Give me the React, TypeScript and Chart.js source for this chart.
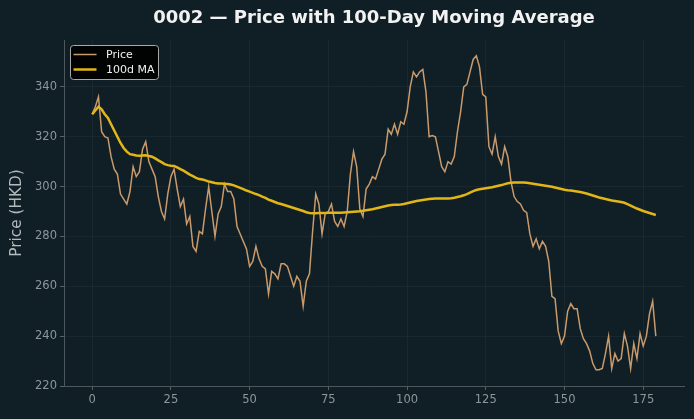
import React, { useEffect, useRef } from "react";
import { Chart, registerables } from "chart.js";

Chart.register(...registerables);

// Daily closing price (HKD), day 0 .. 179
const price: number[] = [
  329, 332, 336, 322, 320, 319.5, 312, 307, 305, 297,
  295, 293, 298, 308, 304, 306, 315, 318, 310, 307,
  304, 296, 290, 287, 297, 304, 307, 299, 292, 295,
  285, 288, 276, 274, 282, 281, 291, 300, 290, 280,
  289, 292, 301, 298, 298, 295, 284, 281, 278, 275,
  268, 270, 276, 271, 268, 267, 257, 266, 265, 263,
  269, 269, 268, 264, 260, 264, 262, 252, 262, 265,
  282, 297, 293, 281, 289, 290, 293, 286, 284, 287,
  284, 290, 305, 314, 308, 291, 288, 299, 301, 304,
  303, 307, 311, 313, 323, 321, 325, 321, 326, 325,
  330, 340, 346, 344, 346, 347, 338, 320, 320.5, 320,
  314, 308, 306, 310, 309, 312, 322, 330, 340, 341,
  346, 351, 352.5, 348, 337, 336, 316, 313, 320, 312,
  309, 316, 312, 302, 296, 294, 293, 290.5, 289.5, 281,
  276, 279, 275, 278, 276, 270, 256, 255, 242, 237,
  240, 250, 253, 251, 251, 243, 239, 237, 234, 229,
  226.5, 226.5, 227, 233, 240, 227, 233, 230, 231, 241,
  236, 227, 237, 231, 241, 236, 240, 249, 254, 240,
];

// 100-day moving average (HKD), day 0 .. 179
const movingAvg: number[] = [
  329, 330.5, 332, 331, 329, 327.5, 325, 322.5, 320, 317.5,
  315.5, 314, 313, 312.8, 312.5, 312.4, 312.5, 312.6, 312.3, 312,
  311.3, 310.5, 309.8, 309, 308.6, 308.4, 308.3, 307.7, 307, 306.4,
  305.6, 304.8, 304.2, 303.5, 303, 302.8, 302.5, 302, 301.7, 301.4,
  301.2, 301.2, 301.1, 301, 300.8, 300.5, 300, 299.5, 299, 298.4,
  298, 297.5, 297, 296.6, 296, 295.5, 294.8, 294.3, 293.8, 293.3,
  293, 292.6, 292.2, 291.8, 291.4, 291, 290.6, 290.2, 289.7, 289.4,
  289.3, 289.3, 289.4, 289.4, 289.4, 289.5, 289.5, 289.5, 289.5, 289.5,
  289.6, 289.7, 289.8, 289.9, 290, 290.1, 290.3, 290.5, 290.7, 290.9,
  291.2, 291.5, 291.8, 292.1, 292.4, 292.6, 292.7, 292.7, 292.8, 293,
  293.3, 293.6, 293.9, 294.2, 294.4, 294.6, 294.8, 295, 295.1, 295.2,
  295.2, 295.2, 295.2, 295.2, 295.3, 295.5, 295.8, 296.1, 296.5, 297,
  297.6, 298.2, 298.6, 298.9, 299.1, 299.3, 299.5, 299.7, 300, 300.3,
  300.6, 301, 301.3, 301.5, 301.6, 301.6, 301.6, 301.6, 301.5, 301.3,
  301.1, 300.9, 300.7, 300.5, 300.3, 300.1, 299.9, 299.6, 299.3, 299,
  298.7, 298.5, 298.4, 298.2, 298, 297.8, 297.5, 297.2, 296.8, 296.4,
  296, 295.6, 295.3, 295, 294.7, 294.4, 294.2, 294, 293.8, 293.5,
  293, 292.4, 291.8, 291.2, 290.7, 290.2, 289.8, 289.4, 289, 288.6,
];

const xTicks: number[] = [0, 25, 50, 75, 100, 125, 150, 175];
const yTicks: number[] = [220, 240, 260, 280, 300, 320, 340];

const TITLE = "0002 — Price with 100-Day Moving Average";
const Y_TITLE = "Price (HKD)";
const PRICE_LABEL = "Price";
const MA_LABEL = "100d MA";

const BG = "#101f26";
const PRICE_COLOR = "#c99a6b";
const MA_COLOR = "#e2b616";
const FONT = "'DejaVu Sans', sans-serif";

const decorPlugin = {
  id: "decor",
  beforeDraw(chart: Chart) {
    const { ctx, width, height } = chart;
    ctx.save();
    ctx.fillStyle = BG;
    ctx.fillRect(0, 0, width, height);
    ctx.restore();
  },
  afterDraw(chart: Chart) {
    const { ctx, chartArea } = chart;
    ctx.save();
    // title
    ctx.fillStyle = "#f2f2f2";
    ctx.font = `bold 18px ${FONT}`;
    ctx.textAlign = "center";
    ctx.textBaseline = "middle";
    ctx.fillText(TITLE, (chartArea.left + chartArea.right) / 2, 18);

    // y-axis title
    ctx.save();
    ctx.translate(17, (chartArea.top + chartArea.bottom) / 2);
    ctx.rotate(-Math.PI / 2);
    ctx.fillStyle = "#b3babe";
    ctx.font = `15.3px ${FONT}`;
    ctx.fillText(Y_TITLE, 0, 0);
    ctx.restore();

    // legend
    const bx = 70.5, by = 45.5, bw = 88, bh = 34, r = 3;
    ctx.beginPath();
    ctx.moveTo(bx + r, by);
    ctx.lineTo(bx + bw - r, by);
    ctx.arcTo(bx + bw, by, bx + bw, by + r, r);
    ctx.lineTo(bx + bw, by + bh - r);
    ctx.arcTo(bx + bw, by + bh, bx + bw - r, by + bh, r);
    ctx.lineTo(bx + r, by + bh);
    ctx.arcTo(bx, by + bh, bx, by + bh - r, r);
    ctx.lineTo(bx, by + r);
    ctx.arcTo(bx, by, bx + r, by, r);
    ctx.closePath();
    ctx.fillStyle = "rgba(0,0,0,0.9)";
    ctx.fill();
    ctx.strokeStyle = "#a9a9a9";
    ctx.lineWidth = 1;
    ctx.stroke();

    ctx.lineCap = "butt";
    ctx.strokeStyle = PRICE_COLOR;
    ctx.lineWidth = 1.5;
    ctx.beginPath();
    ctx.moveTo(73.5, 54.5);
    ctx.lineTo(96.5, 54.5);
    ctx.stroke();

    ctx.strokeStyle = MA_COLOR;
    ctx.lineWidth = 2.5;
    ctx.beginPath();
    ctx.moveTo(73.5, 69.5);
    ctx.lineTo(96.5, 69.5);
    ctx.stroke();

    ctx.fillStyle = "#f0f0f0";
    ctx.font = `11px ${FONT}`;
    ctx.textAlign = "left";
    ctx.textBaseline = "middle";
    ctx.fillText(PRICE_LABEL, 106, 55);
    ctx.fillText(MA_LABEL, 106, 70);
    ctx.restore();
  },
};

export default function App() {
  const canvasRef = useRef<HTMLCanvasElement | null>(null);

  useEffect(() => {
    document.body.style.margin = "0";
    document.body.style.background = BG;
    const canvas = canvasRef.current;
    if (!canvas) return;

    const chart = new Chart(canvas, {
      type: "line",
      data: {
        datasets: [
          {
            label: PRICE_LABEL,
            data: price.map((v, i) => ({ x: i, y: v })),
            borderColor: PRICE_COLOR,
            borderWidth: 1.5,
            pointRadius: 0,
            tension: 0,
            fill: false,
            order: 2,
          },
          {
            label: MA_LABEL,
            data: movingAvg.map((v, i) => ({ x: i, y: v })),
            borderColor: MA_COLOR,
            borderWidth: 2.5,
            pointRadius: 0,
            tension: 0,
            fill: false,
            order: 1,
          },
        ],
      },
      options: {
        responsive: false,
        animation: false,
        devicePixelRatio: 1,
        layout: { padding: { top: 40, right: 10, left: 0, bottom: 0 } },
        plugins: {
          legend: { display: false },
          title: { display: false },
          tooltip: { enabled: false },
        },
        scales: {
          x: {
            type: "linear",
            min: -8.95,
            max: 187.95,
            afterBuildTicks: (scale: any) => {
              scale.ticks = xTicks.map((v) => ({ value: v }));
            },
            afterFit: (scale: any) => {
              scale.height = 33;
            },
            grid: {
              color: "rgba(255,255,255,0.04)",
              tickColor: "#566166",
              tickLength: 4,
              lineWidth: 1,
            },
            border: { color: "#4d585d", width: 1 },
            ticks: {
              color: "#8c979c",
              font: { family: FONT, size: 11.5 },
              padding: 3,
              maxRotation: 0,
              autoSkip: false,
            },
          },
          y: {
            type: "linear",
            min: 220,
            max: 358.8,
            afterBuildTicks: (scale: any) => {
              scale.ticks = yTicks.map((v) => ({ value: v }));
            },
            afterFit: (scale: any) => {
              scale.width = 64;
            },
            grid: {
              color: "rgba(255,255,255,0.04)",
              tickColor: "#566166",
              tickLength: 4,
              lineWidth: 1,
            },
            border: { color: "#4d585d", width: 1 },
            ticks: {
              color: "#8c979c",
              font: { family: FONT, size: 11.5 },
              padding: 3,
              autoSkip: false,
            },
          },
        },
      },
      plugins: [decorPlugin],
    });

    return () => chart.destroy();
  }, []);

  return (
    <canvas
      ref={canvasRef}
      width={694}
      height={419}
      style={{ display: "block", width: 694, height: 419 }}
    />
  );
}
